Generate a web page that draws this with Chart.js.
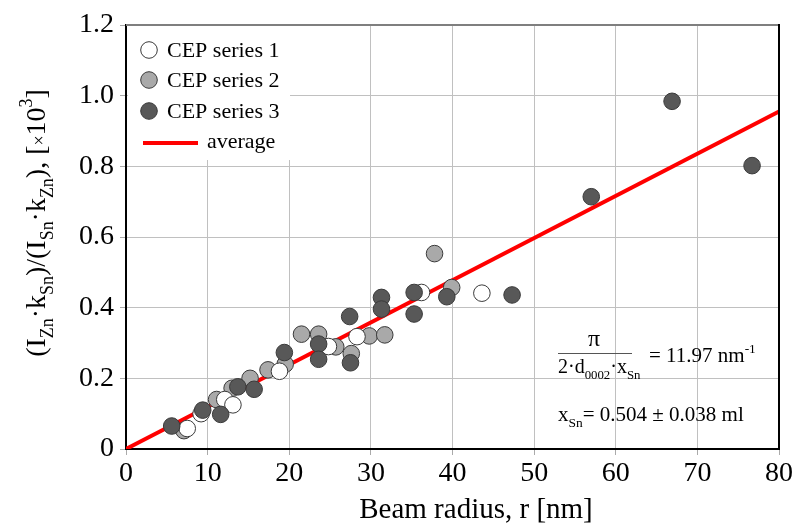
<!DOCTYPE html>
<html>
<head>
<meta charset="utf-8">
<script src="https://cdn.jsdelivr.net/npm/chart.js@4.4.1/dist/chart.umd.min.js"></script>
<style>
  html, body { margin: 0; padding: 0; background: #fff; }
  #wrap { width: 798px; height: 523px; }
</style>
</head>
<body>
<div id="wrap"><canvas id="chart" width="798" height="523"></canvas></div>
<script>
// values
const series1X = [7.5, 9.2, 12.1, 13.1, 18.8, 24.8, 28.3, 36.2, 43.6];
const series1Y = [0.058, 0.10, 0.14, 0.125, 0.22, 0.29, 0.318, 0.443, 0.441];

const series2X = [7.1, 11.1, 13.0, 15.2, 17.4, 19.5, 21.5, 23.6, 25.7, 27.6, 29.8, 31.7, 37.8, 39.9];
const series2Y = [0.052, 0.14, 0.172, 0.20, 0.224, 0.24, 0.325, 0.325, 0.289, 0.27, 0.32, 0.323, 0.553, 0.457];

const series3X = [5.6, 9.4, 11.6, 13.7, 15.7, 19.4, 23.6, 23.6, 27.4, 27.5, 31.3, 31.3, 35.3, 35.3, 39.3, 47.3, 57.0, 66.9, 76.7];
const series3Y = [0.065, 0.11, 0.098, 0.176, 0.169, 0.273, 0.297, 0.254, 0.375, 0.244, 0.429, 0.396, 0.443, 0.382, 0.431, 0.436, 0.714, 0.984, 0.802];

const averageX = [0, 80];
const averageY = [0, 0.955];

const seriesLabels = ['CEP series 1', 'CEP series 2', 'CEP series 3', 'average'];
const xTitle = 'Beam radius, r [nm]';

const FONT = '"Liberation Serif", "Times New Roman", serif';
const colors = {
  s1: '#ffffff',
  s2: '#a9a9a9',
  s3: '#585858',
  edge: '#3a3a3a',
  avg: '#ff0000',
  grid: '#c0c0c0',
};

function points(xs, ys) {
  return xs.map((x, i) => ({ x, y: ys[i] }));
}

function scatterSet(label, xs, ys, fill, order) {
  return {
    type: 'scatter',
    label,
    data: points(xs, ys),
    backgroundColor: fill,
    borderColor: colors.edge,
    borderWidth: 1,
    pointRadius: 8.3,
    order,
  };
}

// text run with sub/superscripts
function richWidth(ctx, parts, size) {
  let w = 0;
  parts.forEach((p) => {
    ctx.font = (p.s ? size * 0.64 : size) + 'px ' + FONT;
    w += ctx.measureText(p.t).width;
  });
  return w;
}

function drawRich(ctx, parts, x, y, size) {
  let cx = x;
  parts.forEach((p) => {
    const fs = p.s ? size * 0.64 : size;
    ctx.font = fs + 'px ' + FONT;
    let dy = 0;
    if (p.s === 'sub') dy = size * 0.28;
    if (p.s === 'sup') dy = -size * 0.45;
    ctx.fillText(p.t, cx, y + dy);
    cx += ctx.measureText(p.t).width;
  });
  return cx;
}

const yTitleParts = [
  { t: '(I' }, { t: 'Zn', s: 'sub' }, { t: '\u00b7k' }, { t: 'Sn', s: 'sub' },
  { t: ')/(I' }, { t: 'Sn', s: 'sub' }, { t: '\u00b7k' }, { t: 'Zn', s: 'sub' },
  { t: '), [' }, { t: '\u00d7', s: 'x' }, { t: '10' }, { t: '3', s: 'sup' }, { t: ']' },
];

const decor = {
  id: 'decor',
  afterDatasetsDraw(chart) {
    const ctx = chart.ctx;
    const a = chart.chartArea;
    ctx.save();

    // frame: top gray, right black
    ctx.strokeStyle = '#7f7f7f';
    ctx.lineWidth = 2;
    ctx.beginPath();
    ctx.moveTo(a.left, a.top);
    ctx.lineTo(a.right, a.top);
    ctx.stroke();
    ctx.strokeStyle = '#000';
    ctx.beginPath();
    ctx.moveTo(a.right, a.top - 1);
    ctx.lineTo(a.right, a.bottom);
    ctx.stroke();

    // legend inside plot
    ctx.fillStyle = '#fff';
    ctx.fillRect(a.left + 2, a.top + 1, 162, 134);
    const rows = [50, 80, 111];
    const fills = [colors.s1, colors.s2, colors.s3];
    ctx.textBaseline = 'middle';
    ctx.textAlign = 'left';
    rows.forEach((y, i) => {
      ctx.beginPath();
      ctx.arc(149, y, 8.3, 0, Math.PI * 2);
      ctx.fillStyle = fills[i];
      ctx.fill();
      ctx.lineWidth = 1;
      ctx.strokeStyle = colors.edge;
      ctx.stroke();
      ctx.fillStyle = '#000';
      ctx.font = '22px ' + FONT;
      ctx.fillText(seriesLabels[i], 167, y + 1);
    });
    ctx.strokeStyle = colors.avg;
    ctx.lineWidth = 4;
    ctx.beginPath();
    ctx.moveTo(143, 143);
    ctx.lineTo(198, 143);
    ctx.stroke();
    ctx.fillStyle = '#000';
    ctx.fillText(seriesLabels[3], 207, 142);

    // annotation
    ctx.textBaseline = 'alphabetic';
    ctx.font = '24px ' + FONT;
    ctx.textAlign = 'center';
    ctx.fillText('\u03c0', 594, 346);
    ctx.textAlign = 'left';
    ctx.strokeStyle = '#555';
    ctx.lineWidth = 1;
    ctx.beginPath();
    ctx.moveTo(558, 353.5);
    ctx.lineTo(632, 353.5);
    ctx.stroke();
    drawRich(ctx, [{ t: '2\u00b7d' }, { t: '0002', s: 'sub' }, { t: '\u00b7x' }, { t: 'Sn', s: 'sub' }], 558, 373, 20);
    drawRich(ctx, [{ t: '= 11.97 nm' }, { t: '-1', s: 'sup' }], 649, 362, 21);
    drawRich(ctx, [{ t: 'x' }, { t: 'Sn', s: 'sub' }, { t: '= 0.504 \u00b1 0.038 ml' }], 558, 421, 21);

    // x title
    ctx.textAlign = 'center';
    ctx.font = '29px ' + FONT;
    ctx.fillText(xTitle, 476, 518);

    // y title, rotated
    ctx.textAlign = 'left';
    const size = 28;
    const w = richWidth(ctx, yTitleParts, size);
    ctx.translate(45, 223);
    ctx.rotate(-Math.PI / 2);
    drawRich(ctx, yTitleParts, -w / 2, 0, size);

    ctx.restore();
  },
};

new Chart(document.getElementById('chart'), {
  data: {
    datasets: [
      scatterSet(seriesLabels[0], series1X, series1Y, colors.s1, 2),
      scatterSet(seriesLabels[1], series2X, series2Y, colors.s2, 3),
      scatterSet(seriesLabels[2], series3X, series3Y, colors.s3, 1),
      {
        type: 'line',
        label: seriesLabels[3],
        data: points(averageX, averageY),
        borderColor: colors.avg,
        borderWidth: 4,
        pointRadius: 0,
        fill: false,
        order: 5,
      },
    ],
  },
  options: {
    responsive: false,
    animation: false,
    devicePixelRatio: 1,
    layout: { padding: { top: 25, right: 19, left: 0, bottom: 0 } },
    plugins: { legend: { display: false }, tooltip: { enabled: false } },
    scales: {
      x: {
        type: 'linear',
        min: 0,
        max: 80,
        ticks: { stepSize: 10, color: '#000', font: { family: FONT, size: 28 }, padding: 2 },
        grid: { color: colors.grid, tickColor: '#aaa', tickLength: 6 },
        border: { color: '#000', width: 2 },
        afterFit(scale) { scale.height = 74; },
      },
      y: {
        type: 'linear',
        min: 0,
        max: 1.2,
        ticks: {
          stepSize: 0.2,
          color: '#000',
          font: { family: FONT, size: 28 },
          padding: 6,
          callback: (v) => (v === 0 ? '0' : v.toFixed(1)),
        },
        grid: { color: colors.grid, tickColor: '#aaa', tickLength: 6 },
        border: { color: '#000', width: 2 },
        afterFit(scale) { scale.width = 126; },
      },
    },
  },
  plugins: [decor],
});
</script>
</body>
</html>
